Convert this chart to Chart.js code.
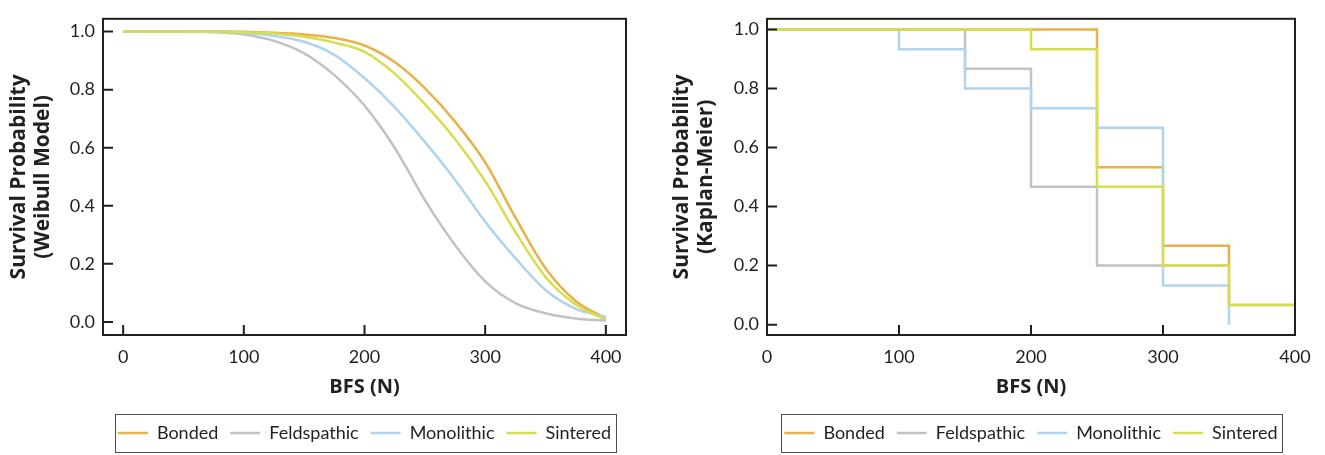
<!DOCTYPE html>
<html>
<head>
  <meta charset="utf-8">
  <title>Survival probability vs BFS</title>
  <script src="https://cdn.jsdelivr.net/npm/chart.js@4.4.1/dist/chart.umd.min.js"></script>
  <style>
    html, body { margin: 0; padding: 0; background: #fff; overflow: hidden; }
    #wrap { position: relative; width: 1325px; height: 455px; overflow: hidden; }
    canvas { position: absolute; top: 0; }
    #weibull { left: 0; }
    #km { left: 660px; }
  </style>
</head>
<body>
<div id="wrap">
  <canvas id="weibull" width="729" height="455" style="width:729px;height:455px"></canvas>
  <canvas id="km" width="742" height="455" style="width:742px;height:455px"></canvas>
</div>
<script>
  var groups = ['Bonded', 'Feldspathic', 'Monolithic', 'Sintered'];
  var colors = ['#E8B24A', '#C2C2C2', '#AED4F0', '#D6DE4C'];

  // Weibull model curves, sampled every 25 N
  var bfs = [0, 25, 50, 75, 100, 125, 150, 175, 200, 225, 250, 275, 300, 325, 350, 375, 400];
  var weibullBonded = [1, 1, 1, 1, 0.999, 0.996, 0.99, 0.978, 0.952, 0.895, 0.805, 0.69, 0.55, 0.36, 0.185, 0.072, 0.012];
  var weibullFeldspathic = [1, 1, 1, 0.998, 0.99, 0.968, 0.925, 0.85, 0.745, 0.6, 0.42, 0.265, 0.14, 0.065, 0.03, 0.012, 0.004];
  var weibullMonolithic = [1, 1, 1, 0.999, 0.995, 0.985, 0.965, 0.92, 0.84, 0.74, 0.62, 0.49, 0.345, 0.22, 0.11, 0.045, 0.018];
  var weibullSintered = [1, 1, 1, 1, 0.998, 0.993, 0.982, 0.962, 0.93, 0.855, 0.75, 0.63, 0.485, 0.31, 0.155, 0.06, 0.008];

  // Kaplan-Meier step functions (x = failure load, y = survival after it)
  var kmBondedX = [0, 250, 300, 350, 400];
  var kmBondedY = [1, 0.533, 0.267, 0.067, 0.067];
  var kmFeldspathicX = [0, 150, 200, 250, 350];
  var kmFeldspathicY = [1, 0.867, 0.467, 0.2, 0.2];
  var kmMonolithicX = [0, 100, 150, 200, 250, 300, 350];
  var kmMonolithicY = [1, 0.933, 0.8, 0.733, 0.667, 0.133, 0];
  var kmSinteredX = [0, 200, 250, 300, 350, 400];
  var kmSinteredY = [1, 0.933, 0.467, 0.2, 0.067, 0.067];

  var yTicks = [0, 0.2, 0.4, 0.6, 0.8, 1.0];
  var xTicks = [0, 100, 200, 300, 400];

  var ink = '#231F20';
  var titleFont = '"Open Sans", Lato, sans-serif';
  Chart.defaults.font.family = 'Lato, "Open Sans", sans-serif';
  Chart.defaults.color = ink;

  function pts(xs, ys) {
    return xs.map(function(x, i) { return { x: x, y: ys[i] }; });
  }

  // box around the plot, inward tick marks, legend centred under the plot with a border
  var frameTicks = {
    id: 'frameTicks',
    afterLayout: function(chart) {
      var lg = chart.legend, a = chart.chartArea;
      if (!lg) return;
      lg.left = a.left;
      lg.right = a.right;
      lg.width = a.right - a.left;
    },
    afterDatasetsDraw: function(chart) {
      var ctx = chart.ctx, a = chart.chartArea;
      var xs = chart.scales.x, ys = chart.scales.y;
      ctx.save();
      ctx.strokeStyle = ink;
      ctx.lineWidth = 2;
      ctx.strokeRect(a.left, a.top, a.right - a.left, a.bottom - a.top);
      ctx.beginPath();
      xs.ticks.forEach(function(t) {
        var px = xs.getPixelForValue(t.value);
        ctx.moveTo(px, a.bottom);
        ctx.lineTo(px, a.bottom - 10);
      });
      ys.ticks.forEach(function(t) {
        var py = ys.getPixelForValue(t.value);
        ctx.moveTo(a.left, py);
        ctx.lineTo(a.left + 10, py);
      });
      ctx.stroke();
      ctx.restore();
    },
    afterDraw: function(chart) {
      var boxes = chart.legend.legendHitBoxes;
      if (!boxes || !boxes.length) return;
      var l = Infinity, r = -Infinity, t = Infinity, b = -Infinity;
      boxes.forEach(function(h) {
        l = Math.min(l, h.left); r = Math.max(r, h.left + h.width);
        t = Math.min(t, h.top); b = Math.max(b, h.top + h.height);
      });
      var ctx = chart.ctx;
      ctx.save();
      ctx.strokeStyle = '#4D4D4D';
      ctx.lineWidth = 1;
      ctx.strokeRect(Math.round(l - 3) + 0.5, Math.round(t - 10) + 0.5, Math.round(r - l + 8), Math.round(b - t + 20));
      ctx.restore();
    }
  };

  function makeOptions(title, xMin, xMax, yMin, yMax, yAxisWidth, titlePad) {
    return {
      responsive: false,
      animation: false,
      layout: { padding: { top: 9, right: yAxisWidth, bottom: 3, left: 0 } },
      plugins: {
        tooltip: { enabled: false },
        legend: {
          position: 'bottom',
          labels: {
            usePointStyle: true,
            pointStyle: 'line',
            pointStyleWidth: 30,
            padding: 12,
            color: ink,
            font: { size: 18 },
            sort: function(a, b) { return a.datasetIndex - b.datasetIndex; }
          }
        }
      },
      scales: {
        x: {
          type: 'linear',
          min: xMin,
          max: xMax,
          grid: { display: false, drawTicks: false },
          border: { display: false },
          afterFit: function(s) { s.height = 77; },
          afterBuildTicks: function(s) { s.ticks = xTicks.map(function(v) { return { value: v }; }); },
          ticks: { padding: 11, font: { size: 18 }, color: ink },
          title: { display: true, text: 'BFS (N)', color: ink, font: { family: titleFont, size: 20, weight: 'bold' }, padding: { top: 4, bottom: 13 } }
        },
        y: {
          min: yMin,
          max: yMax,
          grid: { display: false, drawTicks: false },
          border: { display: false },
          afterFit: function(s) { s.width = yAxisWidth; },
          afterBuildTicks: function(s) { s.ticks = yTicks.map(function(v) { return { value: v }; }); },
          ticks: { padding: 8, font: { size: 18 }, color: ink, callback: function(v) { return v.toFixed(1); } },
          title: { display: true, text: title, color: ink, font: { family: titleFont, size: 21, weight: 'bold', lineHeight: 1.15 }, padding: { top: titlePad, bottom: 0 } }
        }
      }
    };
  }

  function lineSet(i, data, stepped) {
    return {
      label: groups[i],
      data: data,
      borderColor: colors[i],
      backgroundColor: colors[i],
      borderWidth: 2.5,
      pointRadius: 0,
      fill: false,
      stepped: stepped ? 'before' : false,
      cubicInterpolationMode: 'monotone',
      order: 4 - i
    };
  }

  new Chart(document.getElementById('weibull'), {
    type: 'line',
    data: {
      datasets: [
        lineSet(0, pts(bfs, weibullBonded)),
        lineSet(1, pts(bfs, weibullFeldspathic)),
        lineSet(2, pts(bfs, weibullMonolithic)),
        lineSet(3, pts(bfs, weibullSintered))
      ]
    },
    options: makeOptions(['Survival Probability', '(Weibull Model)'], -16.7, 416.7, -0.045, 1.044, 103, 7),
    plugins: [frameTicks]
  });

  new Chart(document.getElementById('km'), {
    type: 'line',
    data: {
      datasets: [
        lineSet(0, pts(kmBondedX, kmBondedY), true),
        lineSet(1, pts(kmFeldspathicX, kmFeldspathicY), true),
        lineSet(2, pts(kmMonolithicX, kmMonolithicY), true),
        lineSet(3, pts(kmSinteredX, kmSinteredY), true)
      ]
    },
    options: makeOptions(['Survival Probability', '(Kaplan-Meier)'], 0, 400, -0.035, 1.036, 107, 10),
    plugins: [frameTicks]
  });
</script>
</body>
</html>
